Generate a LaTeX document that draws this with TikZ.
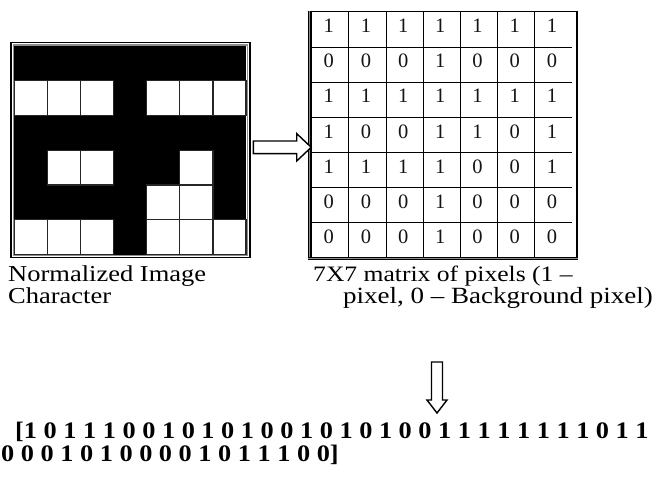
\documentclass[tikz,border=0pt]{standalone}
\usepackage{graphicx}
\usepackage{fontspec}
\setmainfont{Liberation Serif}
\newcommand{\squish}[1]{\scalebox{1}[0.86]{#1}}
\newcommand{\squishb}[1]{\scalebox{1}[0.9]{#1}}
\begin{document}
\begin{tikzpicture}[x=1pt,y=-1pt,
  cellw/.style={fill=white,draw=black!85,line width=1.2pt},
  mline/.style={draw=black,line width=1.1pt},
  digit/.style={font=\fontsize{20.5}{20.5}\selectfont,text=black!92,inner sep=0pt,anchor=base},
  captext/.style={font=\fontsize{26.5}{26.5}\selectfont,inner sep=0pt,anchor=base west},
  vectext/.style={font=\bfseries\fontsize{26.3}{26.3}\selectfont,inner sep=0pt,anchor=base west},
  blockarrow/.style={draw=black,fill=white,line width=1.4pt,line join=miter}]
\useasboundingbox (0,0) rectangle (654,483);
% ---------- left: normalized image character ----------
\fill[black] (14.3,46) rectangle (246,254.5);
\foreach \r/\c in {2/1,2/2,2/3,2/5,2/6,2/7,4/2,4/3,4/6,5/5,5/6,6/1,6/2,6/3,6/5,6/6,6/7}
  \draw[cellw] ({14.3+(\c-1)*33.1},{46+(\r-1)*34.75}) rectangle +(33.1,34.75);
\draw[black!45,line width=1.3pt] (13.5,45) rectangle (247.5,255.6);
\draw[black,line width=1.5pt] (10.8,42.5) rectangle (250,257.5);
% ---------- right: 7x7 matrix ----------
\foreach \i in {1,...,6}
  \draw[mline] (311.7,{12+\i*35.07}) -- (572,{12+\i*35.07});
\foreach \i in {1,...,6}
  \draw[mline] ({311.7+\i*37.19},12) -- ({311.7+\i*37.19},257.5);
\draw[black,line width=1.7pt] (307.5,11.5) -- (577,11.5);
\draw[black,line width=1.7pt] (576.8,10.7) -- (576.8,260.3);
\fill[black!45] (307.7,10.7) rectangle (311.7,260.1);
\draw[black,line width=1.3pt] (308.3,10.7) -- (308.3,260.1);
\draw[black,line width=1.3pt] (311.1,10.7) -- (311.1,260.1);
\fill[black!45] (307.7,256.8) rectangle (577.5,260.1);
\draw[black,line width=1.2pt] (307.7,257.2) -- (577.5,257.2);
\draw[black,line width=1.2pt] (307.7,259.6) -- (577.5,259.6);
\foreach \row [count=\r] in {{1,1,1,1,1,1,1},{0,0,0,1,0,0,0},{1,1,1,1,1,1,1},{1,0,0,1,1,0,1},{1,1,1,1,0,0,1},{0,0,0,1,0,0,0},{0,0,0,1,0,0,0}}
  \foreach \v [count=\c] in \row
    \node[digit] (m-\r-\c) at ({311.7+(\c-0.5)*37.19-1.5},{12+(\r-1)*35.07+20.8}) {\v};
% ---------- arrows ----------
\draw[blockarrow] (253.3,141) -- (296.7,141) -- (296.7,133.6) -- (311.2,147.3) -- (296.7,161) -- (296.7,153.6) -- (253.3,153.6) -- cycle;
\draw[blockarrow] (431.5,362) -- (442.5,362) -- (442.5,400) -- (447,400) -- (437,413) -- (427,400) -- (431.5,400) -- cycle;
% ---------- captions ----------
\node[captext] (n1) at (8,281) {\squish{Normalized Image}};
\node[captext] (n2) at (8,303) {\squish{Character}};
\node[captext,font=\fontsize{25.6}{25.6}\selectfont] (c1) at (313,281) {\squish{7X7 matrix of pixels (1 –}};
\node[captext,font=\fontsize{27}{27}\selectfont] (c2) at (343,303) {\squish{pixel, 0 – Background pixel)}};
% ---------- vector ----------
\node[vectext] (v1) at (15,438) {\squishb{[1 0 1 1 1 0 0 1 0 1 0 1 0 0 1 0 1 0 1 0 0 1 1 1 1 1 1 1 1 0 1 1}};
\node[vectext] (v2) at (1,461) {\squishb{0 0 0 1 0 1 0 0 0 0 1 0 1 1 1 0 0]}};
\end{tikzpicture}
\end{document}
